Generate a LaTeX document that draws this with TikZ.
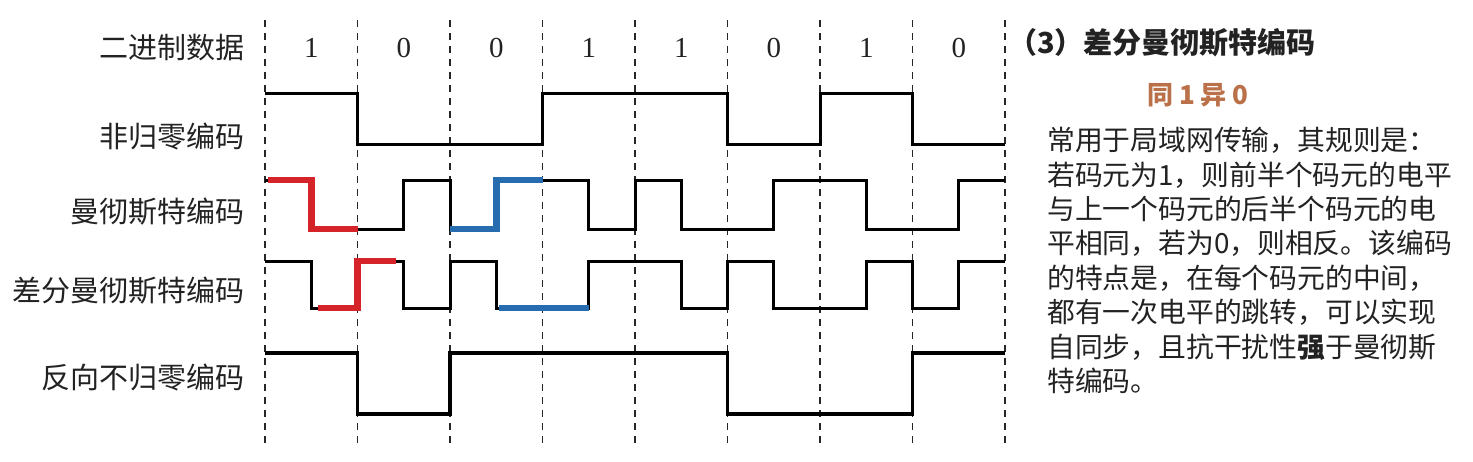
\documentclass[tikz,border=0pt]{standalone}
\usepackage{fontspec}
\setmainfont{Liberation Serif}
\newfontfamily\cjk{Noto Sans CJK SC}
\definecolor{mkred}{RGB}{212,36,42}
\definecolor{mkblue}{RGB}{40,108,176}
\definecolor{mkbrown}{RGB}{186,112,72}
\definecolor{txtgray}{RGB}{34,34,34}
\usetikzlibrary{positioning}

\begin{document}
\begin{tikzpicture}[x=1pt, y=-1pt,
  wave/.style={black, line width=3pt, line join=miter},
  hilite/.style={line width=6.5pt, line join=miter},
  grid/.style={dash pattern=on 7pt off 6pt, line width=1.8pt, black!85},
  lbl/.style={font=\cjk\fontsize{29}{30}\selectfont, txtgray, anchor=east, inner sep=0pt},
  bit/.style={font=\fontsize{29}{29}\selectfont, txtgray, inner sep=0pt}]
\useasboundingbox (0,0) rectangle (1473,461);

% Bit boundaries
\foreach \i in {0,...,8}
  \draw[grid] ({265+92.5*\i},20) -- ({265+92.5*\i},445);

% Binary data
\foreach \b [count=\i from 0] in {1,0,0,1,1,0,1,0}
  \node[bit] (bit\i) at ({311.25+92.5*\i},48) {\b};

% Row labels
\node[lbl] (data) at (245,48) {二进制数据};
\node[lbl] (nrz) at (245,137) {非归零编码};
\node[lbl] (man) at (245,212) {曼彻斯特编码};
\node[lbl] (dman) at (245,291) {差分曼彻斯特编码};
\node[lbl] (nrzi) at (245,378) {反向不归零编码};

% NRZ
\draw[wave] (265,93) -- (357.5,93) -- (357.5,144) -- (542.5,144) -- (542.5,93)
  -- (727.5,93) -- (727.5,144) -- (820,144) -- (820,93) -- (912.5,93)
  -- (912.5,144) -- (1005,144);

% Manchester
\draw[wave] (265,180) -- (311.25,180) -- (311.25,229) -- (403.75,229) -- (403.75,180)
  -- (450,180) -- (450,229) -- (496.25,229) -- (496.25,180) -- (588.75,180)
  -- (588.75,229) -- (635,229) -- (635,180) -- (681.25,180) -- (681.25,229)
  -- (773.75,229) -- (773.75,180) -- (866.25,180) -- (866.25,229) -- (958.75,229)
  -- (958.75,180) -- (1005,180);
\draw[hilite, mkred] (268,180) -- (311.25,180) -- (311.25,229) -- (357.5,229);
\draw[hilite, mkblue] (450,229) -- (496.25,229) -- (496.25,180) -- (542.5,180);

% Differential Manchester
\draw[wave] (265,261) -- (311.25,261) -- (311.25,308) -- (357.5,308) -- (357.5,261)
  -- (403.75,261) -- (403.75,308) -- (450,308) -- (450,261) -- (496.25,261)
  -- (496.25,308) -- (588.75,308) -- (588.75,261) -- (681.25,261) -- (681.25,308)
  -- (727.5,308) -- (727.5,261) -- (773.75,261) -- (773.75,308) -- (866.25,308)
  -- (866.25,261) -- (912.5,261) -- (912.5,308) -- (958.75,308) -- (958.75,261)
  -- (1005,261);
\draw[hilite, mkred] (318,308) -- (357.5,308) -- (357.5,261) -- (396,261);
\draw[hilite, mkblue] (499,308) -- (588.75,308);

% Inverse NRZ
\draw[wave, line width=3.8pt] (265,353) -- (357.5,353) -- (357.5,414) -- (450,414)
  -- (450,353) -- (727.5,353) -- (727.5,414) -- (912.5,414) -- (912.5,353)
  -- (1005,353);

% Explanation
\node[font=\cjk\bfseries\fontsize{29}{30}\selectfont, txtgray, anchor=west, inner sep=0pt]
  (title) at (1008,43) {（3）差分曼彻斯特编码};
\node[font=\cjk\bfseries\fontsize{26}{26}\selectfont, mkbrown, inner sep=0pt]
  (rule) at (1198,95) {同 1 异 0};
\node[font=\cjk\fontsize{27.8}{34.4}\selectfont, txtgray, align=left, anchor=north west, inner sep=0pt]
  (desc) at (1047,127) {常用于局域网传输，其规则是：\\
  若码元为1，则前半个码元的电平\\
  与上一个码元的后半个码元的电\\
  平相同，若为0，则相反。该编码\\
  的特点是，在每个码元的中间，\\
  都有一次电平的跳转，可以实现\\
  自同步，且抗干扰性{\bfseries 强}于曼彻斯\\
  特编码。};

\end{tikzpicture}
\end{document}
